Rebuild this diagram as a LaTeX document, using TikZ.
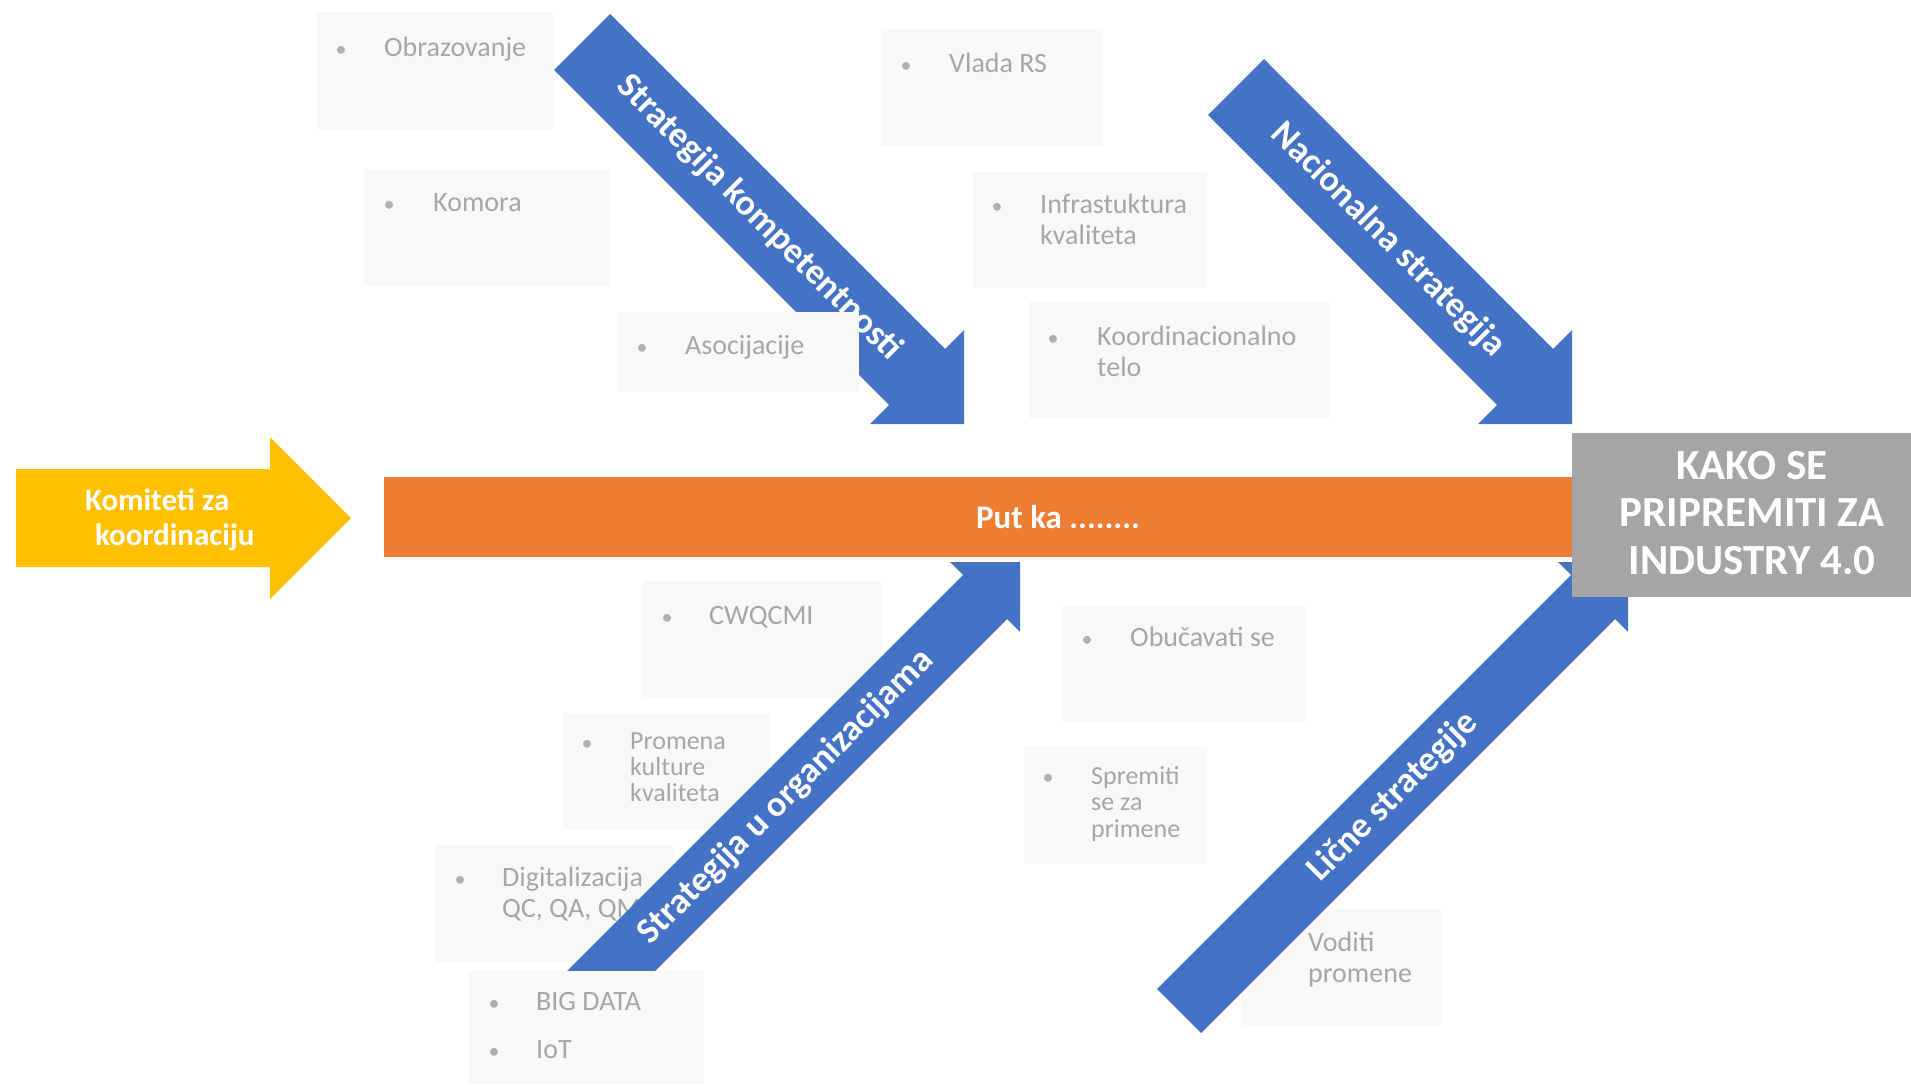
\documentclass[tikz,border=0pt]{standalone}
\usepackage{fontspec}
\setmainfont{Carlito}
\usepackage{tikz}
\usetikzlibrary{calc,positioning}
\definecolor{boneblue}{HTML}{4472C4}
\definecolor{spineorange}{HTML}{ED7D31}
\definecolor{tailyellow}{HTML}{FFC000}
\definecolor{headgray}{HTML}{A5A5A5}
\definecolor{itemfill}{HTML}{F8F8F8}
\definecolor{itemtext}{HTML}{A6A6A6}
\definecolor{itembullet}{HTML}{B0B0B0}
\tikzstyle{bone}     =[fill=boneblue, draw=none]
\tikzstyle{bonelabel}=[text=white, inner sep=0pt,
                       font=\fontsize{36}{40}\selectfont\bfseries]
\tikzstyle{itembox}  =[fill=itemfill, draw=none, inner sep=0pt,
                       anchor=north west]
\tikzstyle{itemtxt}  =[anchor=base west, inner sep=0pt, text=itemtext,
                       align=left, font=\fontsize{28}{31}\selectfont]
\tikzstyle{itemdot}  =[anchor=base, inner sep=0pt, text=itembullet,
                       font=\fontsize{22}{31}\selectfont]

\begin{document}
\begin{tikzpicture}[x=1pt, y=-1pt]
    \useasboundingbox (0,0) rectangle (1911,1084);

    % boxes lying under the bones (multi-line texts sit on their last line)
    \node[itembox, minimum width=236pt, minimum height=117pt] (obr) at (317,12) {};
    \node[itemdot] (obrdot) at (341,56) {\textbullet};
    \node[itemtxt] (obrtxt) at (384,56) {Obrazovanje};

    \node[itembox, minimum width=245pt, minimum height=117pt] (kom) at (364,169) {};
    \node[itemdot] (komdot) at (389,211) {\textbullet};
    \node[itemtxt] (komtxt) at (433,211) {Komora};

    \node[itembox, minimum width=222pt, minimum height=117pt] (vla) at (881,29) {};
    \node[itemdot] (vladot) at (906,72) {\textbullet};
    \node[itemtxt] (vlatxt) at (949,72) {Vlada RS};

    \node[itembox, minimum width=234pt, minimum height=116pt] (inf) at (973,172) {};
    \node[itemdot] (infdot) at (997,213) {\textbullet};
    \node[itemtxt] (inftxt) at (1040,244) {Infrastuktura\\kvaliteta};

    \node[itembox, minimum width=301pt, minimum height=116pt] (koo) at (1029,302) {};
    \node[itemdot] (koodot) at (1053,345) {\textbullet};
    \node[itemtxt] (kootxt) at (1097,376) {Koordinacionalno\\telo};

    \node[itembox, minimum width=239pt, minimum height=116pt] (cwq) at (642,581) {};
    \node[itemdot] (cwqdot) at (667,624) {\textbullet};
    \node[itemtxt] (cwqtxt) at (709,624) {CWQCMI};

    \node[itembox, minimum width=206pt, minimum height=116pt] (pro) at (563,713) {};
    \node[itemdot] (prodot) at (587,750) {\textbullet};
    \node[itemtxt, font=\fontsize{26}{25.6}\selectfont] (protxt) at (630,801)
        {Promena\\kulture\\kvaliteta};

    \node[itembox, minimum width=238pt, minimum height=117pt] (dig) at (435,845) {};
    \node[itemdot] (digdot) at (460,886) {\textbullet};
    \node[itemtxt] (digtxt) at (502,917) {Digitalizacija\\QC, QA, QM};

    \node[itembox, minimum width=242pt, minimum height=116pt] (obu) at (1063,606) {};
    \node[itemdot] (obudot) at (1087,646) {\textbullet};
    \node[itemtxt] (obutxt) at (1130,646) {Obučavati se};

    \node[itembox, minimum width=183pt, minimum height=117pt] (spr) at (1024,747) {};
    \node[itemdot] (sprdot) at (1048,784) {\textbullet};
    \node[itemtxt, font=\fontsize{26}{26.5}\selectfont] (sprtxt) at (1091,837)
        {Spremiti\\se za\\primene};

    \node[itembox, minimum width=200pt, minimum height=116pt] (vod) at (1241,909) {};
    \node[itemtxt] (vodtxt) at (1308,982) {Voditi\\promene};

    % spine, tail and head
    \fill[tailyellow] (16,469) -- (270,469) -- (270,437) -- (351,518)
        -- (270,599) -- (270,567) -- (16,567) -- cycle;
    \node[text=white, inner sep=0pt, anchor=base west, align=left,
          font=\fontsize{31}{35}\selectfont\bfseries] (tail) at (85,545)
        {Komiteti za\\\hspace*{10pt}koordinaciju};

    \node[fill=spineorange, inner sep=0pt, anchor=north west,
          minimum width=1188pt, minimum height=80pt] (spine) at (384,477) {};
    \node[text=white, inner sep=0pt, font=\fontsize{33}{37}\selectfont\bfseries]
        (spinetxt) at (1058,517) {Put ka ........};

    % bones
    \fill[bone] (610,14) -- (945,349) -- (964,330) -- (964,424) -- (870,424)
        -- (889,405) -- (554,70) -- cycle;
    \node[bonelabel, rotate=-45] (komp) at (759,218) {Strategija kompetentnosti};

    \fill[bone] (1264,59) -- (1553,349) -- (1572,330) -- (1572,424) -- (1478,424)
        -- (1497,405) -- (1208,115) -- cycle;
    \node[bonelabel, rotate=-45] (nac) at (1388,240) {Nacionalna strategija};

    \fill[bone] (566,972) -- (963,575) -- (950,562) -- (1020,562) -- (1020,632)
        -- (1007,619) -- (610,1016) -- cycle;
    \node[bonelabel, rotate=45] (org) at (786,797) {Strategija u organizacijama};

    \fill[bone] (1157,989) -- (1571,575) -- (1558,562) -- (1628,562) -- (1628,632)
        -- (1615,619) -- (1201,1033) -- cycle;
    \node[bonelabel, rotate=45] (lic) at (1393,797) {Lične strategije};

    \node[fill=headgray, inner sep=0pt, anchor=north west,
          minimum width=339pt, minimum height=164pt] (head) at (1572,433) {};
    \node[text=white, inner sep=0pt, align=center,
          font=\fontsize{43}{47.5}\selectfont\bfseries] (headtxt) at (1752,513)
        {KAKO SE\\PRIPREMITI ZA\\INDUSTRY 4.0};

    % boxes lying over the bones
    \node[itembox, minimum width=241pt, minimum height=80pt] (aso) at (618,312) {};
    \node[itemdot] (asodot) at (642,354) {\textbullet};
    \node[itemtxt] (asotxt) at (685,354) {Asocijacije};

    \node[itembox, minimum width=235pt, minimum height=113pt] (big) at (469,971) {};
    \node[itemdot] (bigdot) at (494,1010) {\textbullet};
    \node[itemtxt] (bigtxt) at (536,1010) {BIG DATA};
    \node[itemdot] (iotdot) at (494,1058) {\textbullet};
    \node[itemtxt] (iottxt) at (536,1058) {IoT};
\end{tikzpicture}
\end{document}
